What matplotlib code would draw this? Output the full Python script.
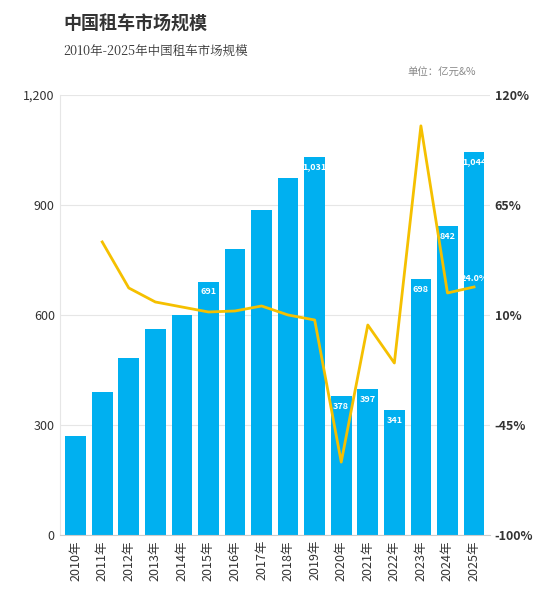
import matplotlib
matplotlib.use("Agg")
import matplotlib.pyplot as plt
from matplotlib.ticker import FuncFormatter

plt.rcParams['font.family'] = ['Noto Sans CJK SC', 'DejaVu Sans']

years = [f"{y}年" for y in range(2010, 2026)]
market = [270, 390, 483, 562, 600, 691, 780, 885, 972, 1031, 378, 397, 341, 698, 842, 1044]
growth = [None, 46.5, 23.5, 16.5, 14.0, 11.5, 12.0, 14.5, 10.0, 7.5, -63.5, 5.0, -14.0, 104.5, 21.0, 24.0]
labeled = {5: "691", 9: "1,031", 10: "378", 11: "397", 12: "341", 13: "698", 14: "842", 15: "1,044"}

fig = plt.figure(figsize=(5.53, 6.04), dpi=100)
ax = fig.add_axes([0.108, 0.114, 0.778, 0.729])
x = list(range(len(years)))
ax.bar(x, market, width=0.78, color='#00B0F0', zorder=2)
ax.set_ylim(0, 1200)
ax.set_yticks([0, 300, 600, 900, 1200])
ax.yaxis.set_major_formatter(FuncFormatter(lambda v, p: f"{int(v):,}"))
ax.set_xlim(-0.6, len(years) - 0.4)
ax.set_xticks(x)
ax.set_xticklabels(years, rotation=90, fontsize=9, color='#333333')
ax.grid(axis='y', color='#e6e6e6', lw=0.8, zorder=0)
for s in ['top', 'right']:
    ax.spines[s].set_visible(False)
ax.spines['left'].set_color('#e6e6e6')
ax.spines['bottom'].set_color('#cccccc')
ax.tick_params(axis='y', length=0, labelsize=9, colors='#333333')
ax.tick_params(axis='x', length=0)
for i, t in labeled.items():
    ax.text(i, market[i] - 15, t, ha='center', va='top', color='white', fontsize=6.5, fontweight='bold', zorder=4)

ax2 = ax.twinx()
gx = [i for i, g in enumerate(growth) if g is not None]
gy = [g for g in growth if g is not None]
ax2.plot(gx, gy, color='#F5C000', lw=2, zorder=3)
ax2.set_ylim(-100, 120)
ax2.set_yticks([-100, -45, 10, 65, 120])
ax2.yaxis.set_major_formatter(FuncFormatter(lambda v, p: f"{int(v)}%"))
ax2.tick_params(axis='y', length=0, labelsize=9, colors='#333333')
for lab in ax2.get_yticklabels():
    lab.set_fontweight('bold')
for s in ['top', 'right', 'left', 'bottom']:
    ax2.spines[s].set_visible(False)
ax2.text(15, growth[15] + 2, f"{growth[15]:.1f}%", ha='center', va='bottom', color='white', fontsize=6.5, fontweight='bold')

fig.text(0.115, 0.975, "中国租车市场规模", fontsize=13, fontweight='bold', color='#333333', va='top')
fig.text(0.115, 0.925, "2010年-2025年中国租车市场规模", fontsize=9, color='#333333', va='top',
         family=['Noto Serif CJK SC', 'Liberation Serif', 'Noto Sans CJK SC'])
fig.text(0.86, 0.887, "单位：亿元&%", fontsize=7.5, color='#888888', ha='right', va='top')

fig.savefig("out.png", dpi=100)
